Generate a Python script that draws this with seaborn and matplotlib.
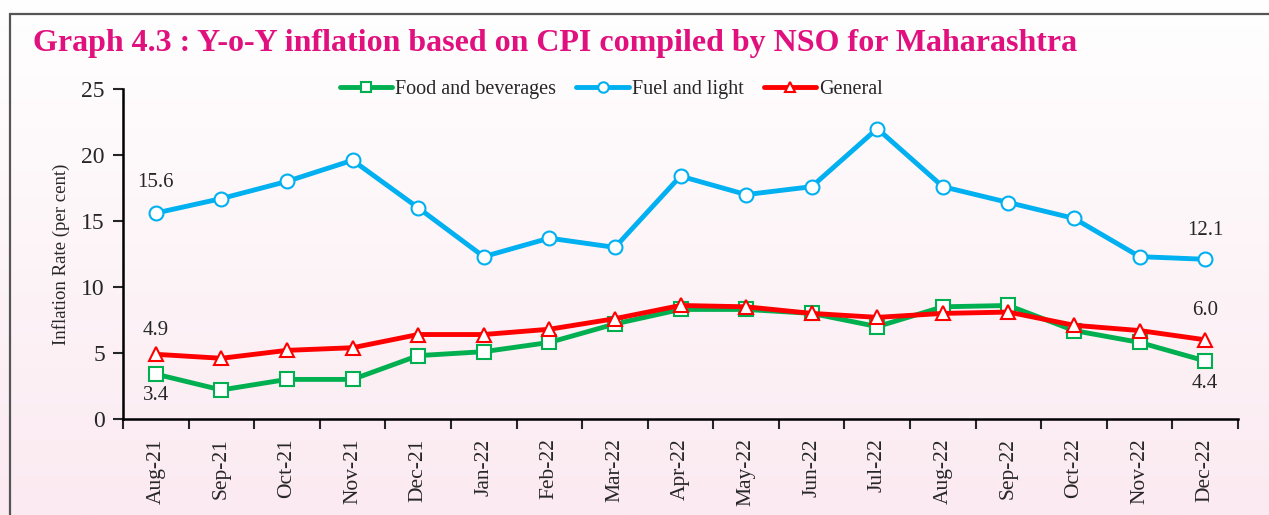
import numpy as np
import pandas as pd
import seaborn as sns
import matplotlib.pyplot as plt
from matplotlib.colors import LinearSegmentedColormap
from matplotlib.patches import Rectangle

# ── data ─────────────────────────────────────────────────────────────────────
months = ['Aug-21', 'Sep-21', 'Oct-21', 'Nov-21', 'Dec-21', 'Jan-22', 'Feb-22',
          'Mar-22', 'Apr-22', 'May-22', 'Jun-22', 'Jul-22', 'Aug-22', 'Sep-22',
          'Oct-22', 'Nov-22', 'Dec-22']
food = [3.4, 2.2, 3.0, 3.0, 4.8, 5.1, 5.8, 7.2, 8.3, 8.3, 8.0, 7.0, 8.5, 8.6, 6.7, 5.8, 4.4]
fuel = [15.6, 16.7, 18.0, 19.6, 16.0, 12.3, 13.7, 13.0, 18.4, 17.0, 17.6, 22.0, 17.6, 16.4, 15.2, 12.3, 12.1]
general = [4.9, 4.6, 5.2, 5.4, 6.4, 6.4, 6.8, 7.6, 8.6, 8.5, 8.0, 7.7, 8.0, 8.1, 7.1, 6.7, 6.0]

df = pd.DataFrame({'month': months, 'Food and beverages': food,
                   'Fuel and light': fuel, 'General': general})

sns.set_style('ticks')
plt.rcParams['font.family'] = ['Liberation Serif', 'DejaVu Serif']

fig = plt.figure(figsize=(12.69, 5.15), dpi=100)

# pinkish gradient background + frame
bg = fig.add_axes([0, 0, 1, 1], zorder=-2)
cmap = LinearSegmentedColormap.from_list('bg', ['#FFFFFF', '#FBEAF1'])
bg.imshow(np.linspace(0, 1, 256).reshape(-1, 1), cmap=cmap, aspect='auto',
          extent=[0, 1, 0, 1], origin='upper')
bg.add_patch(Rectangle((10 / 1269, -0.1), 1.2, 1 - 14 / 515 + 0.1,
                       fill=False, edgecolor='#555555', linewidth=1.6))
bg.set_xlim(0, 1)
bg.set_ylim(0, 1)
bg.axis('off')

fig.text(33 / 1269, 1 - 43 / 515, 'Graph 4.3 : Y-o-Y inflation based on CPI compiled by NSO for Maharashtra',
         color='#E0107E', fontsize=23, fontweight='bold', va='center', ha='left')

ax = fig.add_axes([123 / 1269, 1 - 419 / 515, (1238 - 123) / 1269, (419 - 89) / 515])
ax.set_facecolor('none')

styles = [('Food and beverages', '#00B050', 's'),
          ('Fuel and light', '#00B0F0', 'o'),
          ('General', '#FF0000', '^')]
for col, c, m in styles:
    sns.lineplot(data=df, x='month', y=col, ax=ax, color=c, linewidth=3.5,
                 marker=m, markersize=10, markerfacecolor='white',
                 markeredgecolor=c, markeredgewidth=1.5, sort=False, label=col)

x = np.arange(len(months))
ax.set_xlim(-0.5, len(months) - 0.5)
ax.set_ylim(0, 25)
ax.set_yticks(range(0, 26, 5))
ax.set_xticks(x)
ax.set_xticklabels(months, rotation=90, fontsize=15.5)
ax.set_xticks(np.arange(-0.5, len(months), 1), minor=True)
ax.tick_params(axis='x', which='major', length=0, pad=14)
ax.tick_params(axis='x', which='minor', length=7, width=1.5, direction='out')
ax.tick_params(axis='y', length=7, width=1.5, labelsize=17, pad=6)
ax.set_xlabel('')
ax.set_ylabel('Inflation Rate (per cent)', fontsize=13.5, labelpad=8)
for s in ['left', 'bottom']:
    ax.spines[s].set_linewidth(1.8)
    ax.spines[s].set_color('black')
sns.despine(ax=ax)

# end-point labels
lab = dict(fontsize=15, ha='center', va='center')
ax.text(0, fuel[0] + 2.3, f'{fuel[0]:.1f}', **lab)
ax.text(0, general[0] + 1.8, f'{general[0]:.1f}', **lab)
ax.text(0, food[0] - 1.6, f'{food[0]:.1f}', **lab)
n = len(months) - 1
ax.text(n, fuel[n] + 2.2, f'{fuel[n]:.1f}', **lab)
ax.text(n, general[n] + 2.2, f'{general[n]:.1f}', **lab)
ax.text(n, food[n] - 1.7, f'{food[n]:.1f}', **lab)

ax.legend(loc='center', bbox_to_anchor=(0.438, 1.0), ncol=3, frameon=False,
          fontsize=14.5, handlelength=2.6, columnspacing=1.0, handletextpad=0.15,
          markerscale=0.75)

fig.savefig('out.png', dpi=100)
